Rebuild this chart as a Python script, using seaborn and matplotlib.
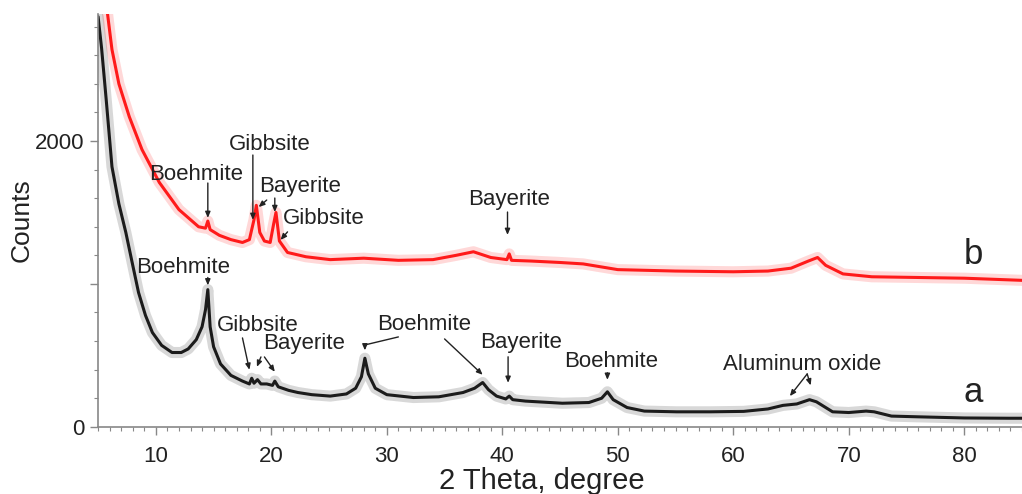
import matplotlib
matplotlib.use("Agg")
import matplotlib.pyplot as plt
import seaborn as sns
import pandas as pd
from matplotlib.ticker import MultipleLocator

# ---- data ----
theta_a = [5.0, 5.3, 5.7, 6.2, 6.8, 7.4, 8.0, 8.5, 9.1, 9.7, 10.5, 11.4, 12.2, 12.8, 13.5,
           14.0, 14.3, 14.5, 14.7, 15.0, 15.6, 16.5, 17.5, 18.1, 18.3, 18.5, 18.8, 19.1,
           19.6, 20.1, 20.3, 20.6, 21.5, 22.3, 23.5, 25.1, 26.5, 27.3, 27.8, 28.1, 28.4,
           29.0, 30.0, 32.3, 34.5, 36.6, 37.6, 38.3, 38.8, 39.5, 40.3, 40.6, 40.9, 42.0,
           45.2, 47.5, 48.6, 49.1, 49.6, 50.8, 52.3, 55.1, 58.0, 60.9, 63.0, 64.3, 65.5,
           66.6, 67.2, 68.6, 70.0, 71.5, 72.2, 73.7, 76.0, 80.0, 83.8, 85.0]
counts_a = [2870, 2650, 2290, 1820, 1560, 1360, 1130, 940, 780, 660, 570, 520, 520, 545, 610,
            700, 820, 960, 700, 560, 440, 360, 320, 300, 340, 305, 330, 300,
            300, 290, 320, 280, 255, 240, 225, 215, 230, 270, 350, 480, 370,
            270, 225, 205, 210, 240, 270, 310, 260, 215, 195, 215, 190, 180,
            165, 170, 200, 245, 190, 135, 110, 105, 105, 108, 125, 150, 160,
            190, 175, 105, 100, 110, 105, 75, 70, 62, 60, 60]

theta_b = [5.8, 6.2, 6.8, 7.7, 8.8, 10.3, 12.0, 13.7, 14.3, 14.5, 14.7, 15.5, 16.5, 17.5,
           18.1, 18.5, 18.7, 19.0, 19.4, 19.9, 20.2, 20.4, 20.7, 21.4, 23.0, 25.1, 28.0,
           31.0, 34.0, 36.0, 37.5, 39.0, 40.4, 40.6, 40.8, 42.5, 45.0, 47.0, 50.0, 55.0,
           60.0, 63.0, 65.0, 66.5, 67.3, 68.0, 69.5, 72.0, 76.0, 80.0, 85.0]
counts_b = [2900, 2640, 2400, 2170, 1940, 1710, 1520, 1400, 1390, 1440, 1380, 1340, 1310, 1290,
            1310, 1450, 1550, 1360, 1300, 1290, 1420, 1500, 1300, 1220, 1190, 1170, 1180,
            1165, 1170, 1200, 1225, 1185, 1170, 1210, 1165, 1160, 1150, 1140, 1100, 1090,
            1085, 1090, 1110, 1160, 1185, 1130, 1070, 1050, 1045, 1040, 1025]

x_ticks = [10, 20, 30, 40, 50, 60, 70, 80]
y_ticks = [0, 1000, 2000]
y_tick_labels = ["0", "", "2000"]

# phase labels: (text, text_x, text_y)
labels_b = [("Boehmite", 13.5, 1769), ("Gibbsite", 19.9, 1979), ("Bayerite", 22.5, 1685),
            ("Gibbsite", 24.5, 1455), ("Bayerite", 40.6, 1594)]
labels_a = [("Boehmite", 12.4, 1112), ("Gibbsite", 18.8, 706), ("Bayerite", 22.8, 580),
            ("Boehmite", 33.2, 713), ("Bayerite", 41.6, 587), ("Boehmite", 49.4, 455),
            ("Aluminum oxide", 66.0, 434)]
# arrows: (start_x, start_y, end_x, end_y)
arrows_b = [(14.5, 1706, 14.5, 1462), (18.4, 1902, 18.4, 1448), (19.6, 1587, 18.9, 1538),
            (20.3, 1601, 20.3, 1503), (21.4, 1364, 20.8, 1308), (40.45, 1503, 40.45, 1343)]
arrows_a = [(14.5, 1045, 14.5, 990), (17.5, 622, 18.1, 399), (19.1, 489, 18.75, 420),
            (19.4, 489, 20.3, 385), (35.0, 615, 38.3, 364), (40.5, 490, 40.5, 308),
            (49.1, 378, 49.1, 329), (66.4, 370, 64.9, 215), (66.4, 370, 66.7, 290)]
leader_a = [(31.0, 629, 28.1, 573)]
arrows_a_short = [(28.1, 573, 28.1, 535)]
series_labels = [("b", 80.8, 1203), ("a", 80.8, 238)]

# ---- plot ----
sns.set_style("white")
plt.rcParams["font.family"] = ["Liberation Sans", "DejaVu Sans"]

fig = plt.figure(figsize=(10.22, 4.94), dpi=100)
ax = fig.add_axes([0.096, 0.136, 0.904, 0.836])

df_a = pd.DataFrame({"theta": theta_a, "counts": counts_a})
df_b = pd.DataFrame({"theta": theta_b, "counts": counts_b})

for df, col in ((df_b, "#ff1010"), (df_a, "#111111")):
    sns.lineplot(data=df, x="theta", y="counts", ax=ax, color=col, lw=8, alpha=0.16,
                 solid_joinstyle="round")
    sns.lineplot(data=df, x="theta", y="counts", ax=ax, color=col, lw=2.2, alpha=0.95,
                 solid_joinstyle="round")

ax.set_xlim(5, 85)
ax.set_ylim(0, 2890)

ax.set_xticks(x_ticks)
ax.set_xticklabels([str(t) for t in x_ticks])
ax.xaxis.set_minor_locator(MultipleLocator(1))
ax.set_yticks(y_ticks)
ax.set_yticklabels(y_tick_labels)
ax.yaxis.set_minor_locator(MultipleLocator(200))
ax.tick_params(axis="both", which="major", direction="out", length=6, width=1,
               color="#888888", labelsize=16, labelcolor="#222222", pad=4)
ax.tick_params(axis="x", which="major", pad=8)
ax.tick_params(axis="both", which="minor", direction="out", length=3, width=0.8,
               color="#888888")
ax.tick_params(axis="both", which="both", bottom=True, left=True)

for s in ("top", "right"):
    ax.spines[s].set_visible(False)
for s in ("left", "bottom"):
    ax.spines[s].set_color("#888888")
    ax.spines[s].set_linewidth(1.2)

ax.set_xlabel("2 Theta, degree", fontsize=21, color="#222222")
ax.xaxis.set_label_coords(0.48, -0.098)
ax.set_ylabel("Counts", fontsize=19, color="#222222")
ax.yaxis.set_label_coords(-0.07, 0.5)

txt_kw = dict(fontsize=16, color="#222222", ha="center", va="center")
for t, x, y in labels_b + labels_a:
    ax.text(x, y, t, **txt_kw)

head = dict(arrowstyle="-|>,head_length=0.35,head_width=0.15", color="#222222", lw=1.0,
            shrinkA=0, shrinkB=0)
for x0, y0, x1, y1 in arrows_b + arrows_a + arrows_a_short:
    ax.annotate("", xy=(x1, y1), xytext=(x0, y0), arrowprops=head)
for x0, y0, x1, y1 in leader_a:
    ax.annotate("", xy=(x1, y1), xytext=(x0, y0),
                arrowprops=dict(arrowstyle="-", color="#222222", lw=1.0, shrinkA=0, shrinkB=0))

for t, x, y in series_labels:
    ax.text(x, y, t, fontsize=25, color="#222222", ha="center", va="center")

fig.savefig("out.png", dpi=100)
